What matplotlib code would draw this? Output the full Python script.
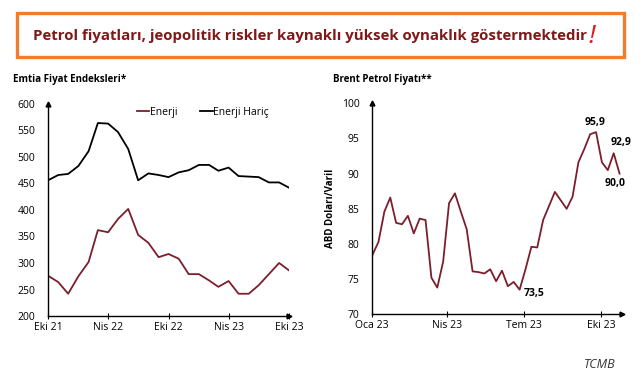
import pandas as pd
from matplotlib import pyplot as plt
from matplotlib.patches import Rectangle
from matplotlib.text import Annotation

plt.rcParams["font.family"] = ["Open Sans", "DejaVu Sans"]

# Emtia fiyat endeksleri (aylik, Eki 21 - Eki 23)
emtia_dates = pd.date_range("2021-10-01", periods=25, freq="MS")
enerji = [276, 264, 242, 275, 302, 362, 358, 383, 402, 353, 338, 311, 317,
          308, 279, 279, 267, 255, 266, 242, 242, 258, 279, 300, 286]
enerji_haric = [456, 466, 468, 483, 511, 564, 563, 547, 515, 456, 469, 466, 462,
                471, 475, 485, 485, 474, 480, 464, 463, 462, 452, 452, 442]
emtia_ticks = ["2021-10-01", "2022-04-01", "2022-10-01", "2023-04-01", "2023-10-01"]
emtia_labels = ["Eki 21", "Nis 22", "Eki 22", "Nis 23", "Eki 23"]

# Brent petrol fiyati (haftalik, 2023)
brent_dates = pd.date_range("2023-01-02", periods=43, freq="7D")
brent = [78.5, 80.3, 84.6, 86.6, 83.0, 82.8, 84.0, 81.5, 83.6, 83.4, 75.2,
         73.8, 77.5, 85.8, 87.2, 84.6, 82.1, 76.1, 76.0, 75.8, 76.4, 74.7,
         76.2, 74.0, 74.6, 73.5, 76.4, 79.6, 79.5, 83.4, 85.4, 87.4, 86.2,
         85.0, 86.7, 91.6, 93.5, 95.6, 95.9, 91.6, 90.5, 92.9, 90.0]
brent_ticks = ["2023-01-01", "2023-04-01", "2023-07-01", "2023-10-01"]
brent_labels = ["Oca 23", "Nis 23", "Tem 23", "Eki 23"]

MAROON = "#7a1f2b"
TITLE_RED = "#801818"

fig = plt.figure(figsize=(6.41, 3.80), dpi=100)

# title box
fig.patches.append(Rectangle((0.0265, 0.85), 0.947, 0.116, transform=fig.transFigure,
                             facecolor="white", edgecolor="#ee7d31", linewidth=2.4))
title = fig.text(0.052, 0.905, "Petrol fiyatları, jeopolitik riskler kaynaklı yüksek oynaklık göstermektedir",
                 fontsize=10.8, fontweight="bold", color=TITLE_RED, va="center", ha="left")
bang = Annotation("!", xy=(1, 0.5), xycoords=title, xytext=(1, 0), textcoords="offset points",
                  fontsize=19, style="italic", color="#e01b1b", va="center", ha="left")
fig.add_artist(bang)


def style_axes(ax):
    ax.spines["top"].set_visible(False)
    ax.spines["right"].set_visible(False)
    ax.spines["left"].set_linewidth(1.0)
    ax.spines["bottom"].set_linewidth(1.0)
    ax.tick_params(axis="y", length=0, labelsize=7.5, pad=9)
    ax.tick_params(axis="x", length=4, direction="inout", labelsize=7.5, pad=2)
    ax.plot(0, 1, marker="^", color="black", markersize=3.5, transform=ax.transAxes, clip_on=False)
    ax.plot(1, 0, marker=">", color="black", markersize=3.5, transform=ax.transAxes, clip_on=False)


# left: emtia
ax1 = fig.add_axes([0.0749, 0.1684, 0.376, 0.558])
ax1.plot(emtia_dates, enerji, color=MAROON, linewidth=1.3, label="Enerji")
ax1.plot(emtia_dates, enerji_haric, color="black", linewidth=1.3, label="Enerji Hariç")
ax1.set_ylim(200, 600)
ax1.set_yticks(range(200, 601, 50))
ax1.set_xlim(emtia_dates[0], emtia_dates[-1])
ax1.set_xticks(pd.to_datetime(emtia_ticks))
ax1.set_xticklabels(emtia_labels)
style_axes(ax1)
ax1.legend(loc="upper left", bbox_to_anchor=(0.33, 1.03), ncol=2, frameon=False,
           fontsize=7.5, handlelength=1.2, handletextpad=0.05, columnspacing=2.2)
fig.text(0.02, 0.79, "Emtia Fiyat Endeksleri*", fontsize=7, fontweight="bold", va="center")

# right: brent
ax2 = fig.add_axes([0.580, 0.1729, 0.3905, 0.5553])
ax2.plot(brent_dates, brent, color=MAROON, linewidth=1.3)
ax2.set_ylim(70, 100)
ax2.set_yticks(range(70, 101, 5))
ax2.set_xlim(pd.Timestamp("2023-01-01"), pd.Timestamp("2023-10-26"))
ax2.set_xticks(pd.to_datetime(brent_ticks))
ax2.set_xticklabels(brent_labels)
style_axes(ax2)
ax2.set_ylabel("ABD Doları/Varil", fontsize=7, fontweight="bold", labelpad=4)
fig.text(0.52, 0.79, "Brent Petrol Fiyatı**", fontsize=7, fontweight="bold", va="center")

# value labels
lbl = dict(fontsize=7.5, fontweight="bold", textcoords="offset points")
ax2.annotate("95,9", xy=(brent_dates[38], brent[38]), xytext=(-1, 5), ha="center", **lbl)
ax2.annotate("92,9", xy=(brent_dates[41], brent[41]), xytext=(5, 6), ha="center", **lbl)
ax2.annotate("90,0", xy=(brent_dates[42], brent[42]), xytext=(-3, -9), ha="center", **lbl)
ax2.annotate("73,5", xy=(brent_dates[25], brent[25]), xytext=(3, -3), ha="left", va="center", **lbl)

fig.text(0.936, 0.04, "TCMB", fontsize=9, style="italic", color="#333333", ha="center", va="center")

fig.savefig("out.png", dpi=100)
